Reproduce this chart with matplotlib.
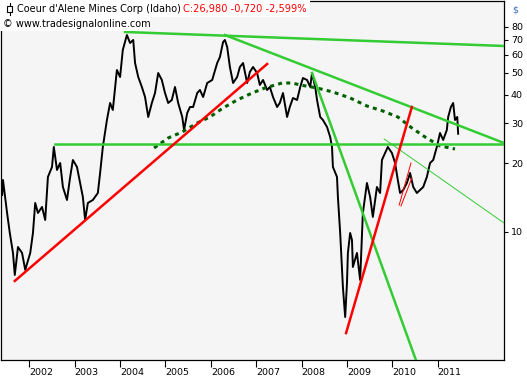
import matplotlib
matplotlib.use('Agg')
import matplotlib.pyplot as plt
from matplotlib.patches import Rectangle

# closing prices (decimal years, USD)
dates = [2001.40, 2001.42, 2001.51, 2001.57, 2001.64, 2001.68, 2001.75, 2001.84, 2001.91, 2002.02,
         2002.08, 2002.13, 2002.19, 2002.28, 2002.35, 2002.41, 2002.50, 2002.54, 2002.61, 2002.68,
         2002.74, 2002.83, 2002.90, 2002.96, 2003.05, 2003.12, 2003.18, 2003.23, 2003.29, 2003.40,
         2003.51, 2003.56, 2003.62, 2003.71, 2003.78, 2003.84, 2003.93, 2004.00, 2004.06, 2004.15,
         2004.22, 2004.29, 2004.33, 2004.40, 2004.48, 2004.55, 2004.62, 2004.70, 2004.77, 2004.84,
         2004.92, 2004.99, 2005.06, 2005.14, 2005.21, 2005.28, 2005.37, 2005.41, 2005.48, 2005.54,
         2005.61, 2005.70, 2005.76, 2005.83, 2005.92, 2006.03, 2006.14, 2006.20, 2006.27, 2006.31,
         2006.36, 2006.42, 2006.49, 2006.58, 2006.64, 2006.71, 2006.80, 2006.86, 2006.93, 2007.02,
         2007.08, 2007.15, 2007.24, 2007.30, 2007.37, 2007.46, 2007.52, 2007.59, 2007.68, 2007.74,
         2007.81, 2007.90, 2007.97, 2008.03, 2008.12, 2008.19, 2008.23, 2008.30, 2008.34, 2008.41,
         2008.47, 2008.56, 2008.63, 2008.67, 2008.69, 2008.78, 2008.80, 2008.85, 2008.89, 2008.91,
         2008.96, 2009.00, 2009.02, 2009.07, 2009.11, 2009.13, 2009.22, 2009.29, 2009.33, 2009.35,
         2009.44, 2009.51, 2009.57, 2009.66, 2009.73, 2009.77, 2009.84, 2009.90, 2009.99, 2010.06,
         2010.12, 2010.17, 2010.24, 2010.32, 2010.39, 2010.46, 2010.54, 2010.61, 2010.68, 2010.76,
         2010.83, 2010.90, 2010.98, 2011.05, 2011.12, 2011.20, 2011.23, 2011.29, 2011.34, 2011.38,
         2011.43, 2011.45]
close = [14.50, 16.88, 12.09, 9.87, 8.06, 6.45, 8.56, 8.06, 6.79, 8.06,
         9.87, 13.38, 12.09, 12.85, 11.26, 17.41, 19.27, 23.60, 18.69, 20.06,
         15.73, 13.79, 17.41, 20.68, 19.27, 16.38, 14.21, 11.26, 13.38, 13.79,
         14.80, 18.13, 23.60, 31.01, 36.86, 34.33, 51.48, 47.96, 63.06, 73.40,
         67.70, 69.79, 55.27, 47.96, 43.34, 39.16, 31.98, 36.86, 40.78, 49.94,
         46.53, 40.78, 36.86, 37.99, 43.34, 36.86, 31.98, 28.03, 33.30, 35.39,
         35.39, 40.78, 42.04, 39.16, 45.13, 46.53, 55.27, 58.73, 68.39, 69.79,
         65.01, 53.07, 45.13, 47.96, 53.07, 55.27, 45.13, 50.45, 53.07, 49.94,
         44.23, 46.53, 42.04, 43.34, 39.16, 35.39, 36.86, 40.78, 31.98, 35.39,
         38.77, 37.99, 43.34, 47.47, 46.53, 43.34, 49.94, 43.34, 37.99, 31.98,
         31.01, 28.90, 26.11, 23.60, 19.27, 17.41, 14.21, 9.87, 6.79, 5.71,
         4.21, 5.95, 8.06, 9.87, 9.19, 6.99, 8.06, 6.13, 9.48, 12.09,
         16.38, 14.21, 11.61, 15.73, 14.80, 20.68, 22.20, 23.60, 22.20, 20.06,
         16.88, 14.80, 15.26, 16.38, 18.13, 15.73, 14.80, 15.26, 15.73, 17.41,
         20.06, 20.68, 23.60, 27.19, 25.33, 28.03, 31.98, 35.39, 36.86, 31.01,
         31.98, 26.98]

# dotted arc
arc_x = [2004.75, 2005.06, 2005.37, 2005.70, 2005.98, 2006.27, 2006.58, 2006.91, 2007.19, 2007.57, 2007.79,
         2007.97, 2008.34, 2008.69, 2009.07, 2009.44, 2009.79, 2010.12, 2010.43, 2010.72, 2011.05, 2011.38]
arc_y = [23.36, 25.85, 27.47, 30.09, 31.98, 35.04, 37.99, 40.78, 42.90, 45.13, 45.13,
         44.23, 42.90, 41.19, 38.77, 35.74, 33.98, 31.98, 28.61, 26.11, 23.84, 23.12]

# trend lines: start/end points
top_x, top_y = [2004.11, 2012.46], [75.68, 65.67]
fall_x, fall_y = [2006.31, 2012.46], [73.39, 24.57]
flat_x, flat_y = [2002.57, 2012.46], [24.20, 24.20]
steep_x, steep_y = [2008.23, 2010.52], [49.94, 2.72]
thin_x, thin_y = [2009.82, 2012.46], [25.59, 10.92]
rise_x, rise_y = [2001.68, 2007.24], [6.07, 54.71]
rise2_x, rise2_y = [2008.98, 2010.43], [3.58, 35.39]
chan1_x, chan1_y = [2010.15, 2010.41], [13.10, 20.06]
chan2_x, chan2_y = [2010.19, 2010.43], [12.97, 17.23]

years = list(range(2002, 2012))
yticks = [10, 20, 30, 40, 50, 60, 70, 80]

W, H = 527, 380
fig = plt.figure(figsize=(W / 100, H / 100), dpi=100)
ax = fig.add_axes([1 / W, 1 - 360 / H, 503 / W, 359 / H])
ax.set_facecolor('#f5f5f5')

green = '#33cc33'
ax.plot(dates, close, color='black', lw=1.4, zorder=2)
ax.plot(arc_x, arc_y, color='#006000', lw=2.2, ls=(0, (1.3, 1.4)), zorder=3)
for xs, ys in [(top_x, top_y), (fall_x, fall_y), (flat_x, flat_y), (steep_x, steep_y)]:
    ax.plot(xs, ys, color=green, lw=1.8, zorder=4)
ax.plot(thin_x, thin_y, color=green, lw=0.7, zorder=4)
ax.plot(rise_x, rise_y, color='red', lw=1.8, zorder=4)
ax.plot(rise2_x, rise2_y, color='red', lw=1.8, zorder=4)
ax.plot(chan1_x, chan1_y, color='red', lw=0.7, zorder=4)
ax.plot(chan2_x, chan2_y, color='red', lw=0.7, zorder=4)

ax.set_yscale('log')
ax.set_xlim(2001.376, 2012.46)
ax.set_ylim(2.724, 103.6)
ax.yaxis.tick_right()
ax.set_yticks(yticks)
ax.set_yticklabels([str(v) for v in yticks])
ax.yaxis.set_minor_locator(plt.NullLocator())
ax.set_xticks(years)
ax.set_xticklabels([str(y) for y in years], ha='left')
ax.tick_params(axis='both', labelsize=6.8, length=3, width=0.8, pad=2)
ax.tick_params(axis='x', length=5, pad=1)
for s in ax.spines.values():
    s.set_linewidth(0.9)

# header box
fig.patches.append(Rectangle((0, 1 - 17 / H), 310 / W, 17 / H, transform=fig.transFigure,
                             facecolor='white', edgecolor='none', zorder=5))
fig.patches.append(Rectangle((0, 1 - 31 / H), 150 / W, 14 / H, transform=fig.transFigure,
                             facecolor='white', edgecolor='none', zorder=5))
fig.patches.append(Rectangle((7 / W, 1 - 12 / H), 5 / W, 6 / H, transform=fig.transFigure,
                             facecolor='white', edgecolor='black', lw=0.8, zorder=6))
fig.lines.append(plt.Line2D([9.5 / W, 9.5 / W], [1 - 3 / H, 1 - 15 / H], transform=fig.transFigure,
                            color='black', lw=0.8, zorder=6))
fig.text(17 / W, 1 - 9 / H, "Coeur d'Alene Mines Corp (Idaho)", fontsize=7.0, va='center', zorder=7)
fig.text(183 / W, 1 - 9 / H, "C:26,980 -0,720 -2,599%", fontsize=7.1, va='center', color='red', zorder=7)
fig.text(3 / W, 1 - 24 / H, "\u00a9 www.tradesignalonline.com", fontsize=7.0, va='center', zorder=7)
fig.text(512 / W, 1 - 10 / H, "$", fontsize=6.8, va='center', color='#3a70c0')

fig.savefig('out.png', dpi=100)
